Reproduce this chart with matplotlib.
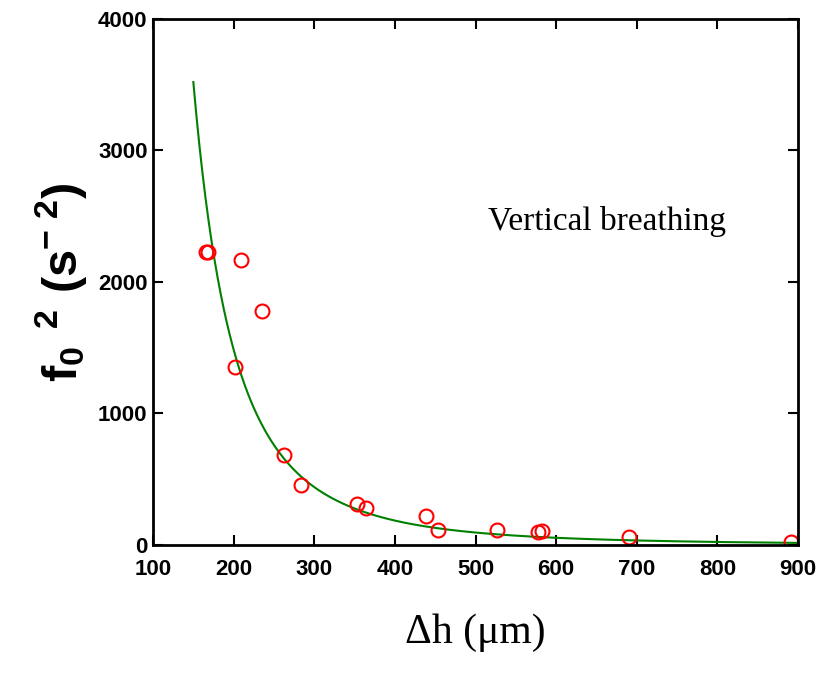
import numpy as np
import matplotlib
matplotlib.use("Agg")
import matplotlib.pyplot as plt

# measured points (delta h in um, f0^2 in s^-2)
dh = [166, 168, 209, 235, 202, 263, 284, 353, 364, 438, 453, 527, 578, 583, 690, 891]
f0sq = [2225, 2225, 2164, 1783, 1356, 686, 457, 312, 282, 221, 114, 114, 99, 107, 61, 23]

# fitted curve
fit_x = [150, 160, 170, 180, 190, 200, 215, 230, 250, 275, 300, 330, 370, 420, 480, 550, 650, 750, 900]
fit_y = [3520, 2900, 2418, 2037, 1732, 1485, 1195, 976, 760, 571, 440, 331, 235, 160, 107, 71, 43, 28, 16]

xticks = [100, 200, 300, 400, 500, 600, 700, 800, 900]
yticks = [0, 1000, 2000, 3000, 4000]

tickfont = 'Liberation Sans'
plt.rcParams['mathtext.fontset'] = 'custom'
plt.rcParams['mathtext.rm'] = 'Liberation Sans'
plt.rcParams['mathtext.bf'] = 'Liberation Sans:bold'

fig = plt.figure(figsize=(8.33, 6.77), dpi=100)
ax = fig.add_axes([0.1837, 0.195, 0.7743, 0.777])

# smooth the read curve in log space
xs = np.linspace(fit_x[0], fit_x[-1], 400)
ys = np.exp(np.interp(np.log(xs), np.log(fit_x), np.log(fit_y)))
ax.plot(xs, ys, color='green', linewidth=1.5)
ax.plot(dh, f0sq, 'o', mfc='none', mec='red', mew=1.5, markersize=10)

ax.set_xlim(100, 900)
ax.set_ylim(0, 4000)
ax.set_xticks(xticks)
ax.set_yticks(yticks)
ax.set_xticklabels([str(v) for v in xticks], family=tickfont, fontweight='bold', fontsize=16)
ax.set_yticklabels([str(v) for v in yticks], family=tickfont, fontweight='bold', fontsize=16)
ax.tick_params(direction='in', length=7, width=1.5, top=True, right=True)
ax.tick_params(axis='x', pad=10)
ax.tick_params(axis='y', pad=4)
for s in ax.spines.values():
    s.set_linewidth(2)

ax.text(0.52, 0.615, 'Vertical breathing', transform=ax.transAxes,
        family='Liberation Serif', fontsize=24, va='center')

ax.set_xlabel('Δh (μm)', family='Liberation Serif', fontsize=30)
ax.xaxis.set_label_coords(0.5, -0.13)
ax.set_ylabel(r'$\mathbf{f_0\ ^2\ (s^{-\ 2})}$', fontsize=35)
ax.yaxis.set_label_coords(-0.1, 0.5)

fig.savefig('out.png', dpi=100)
